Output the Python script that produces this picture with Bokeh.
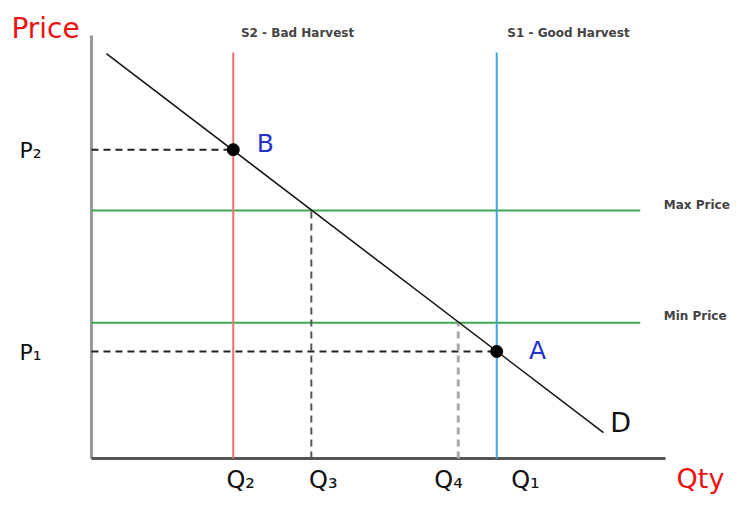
from bokeh.plotting import figure
from bokeh.models import Range1d
from bokeh.embed import file_html
from bokeh.resources import INLINE
from bokeh.core.properties import value

# ---- data ----
demand_q = [0.26, 8.92]
demand_p = [9.57, 0.61]
q_s2 = 2.47          # S2 - bad harvest
q_s1 = 7.06          # S1 - good harvest
q3 = 3.83
q4 = 6.39
p2 = 7.30
p1 = 2.53
max_price = 5.86
min_price = 3.21
axis_top = 10.0
axis_right = 10.0
supply_top = 9.6
green_end = 9.56

q_labels = ["Q₂", "Q₃", "Q₄", "Q₁"]
q_label_x = [2.6, 4.04, 6.22, 7.56]
p_labels = ["P₂", "P₁"]
p_label_y = [7.28, 2.5]

W, H = 733, 495
p = figure(width=W, height=H, output_backend="svg", toolbar_location=None,
           x_range=Range1d(-1.585, 11.185), y_range=Range1d(-0.875, 10.827),
           min_border=0, outline_line_color=None)
p.axis.visible = False
p.grid.visible = False

# axes
p.line([0, 0], [0, axis_top], line_color="#999999", line_width=3)
p.line([0, axis_right], [0, 0], line_color="#555555", line_width=3)

# price levels
p.line([0, green_end], [max_price, max_price], line_color="#3daa4f", line_width=2)
p.line([0, green_end], [min_price, min_price], line_color="#3daa4f", line_width=2)

# supply curves
p.line([q_s2, q_s2], [0, supply_top], line_color="#ef6f6f", line_width=2)
p.line([q_s1, q_s1], [0, supply_top], line_color="#3aa6e6", line_width=2)

# dashed guides
p.line([0, q_s2], [p2, p2], line_color="#222222", line_width=2, line_dash="7 5")
p.line([0, q_s1], [p1, p1], line_color="#222222", line_width=2, line_dash="7 5")
p.line([q3, q3], [0, max_price], line_color="#555555", line_width=2, line_dash="7 5")
p.line([q4, q4], [0, min_price], line_color="#aaaaaa", line_width=3, line_dash="7 5")

# demand
p.line(demand_q, demand_p, line_color="#111111", line_width=1.5)

# equilibrium points
p.scatter([q_s2, q_s1], [p2, p1], size=12, color="black")

hand = value("DejaVu Sans")
p.text([-0.8], [10.17], text=["Price"], text_color="#ee1111", text_font=hand,
       text_font_size="28px", text_align="center", text_baseline="middle")
p.text([10.61], [-0.47], text=["Qty"], text_color="#ee1111", text_font=hand,
       text_font_size="27px", text_align="center", text_baseline="middle")
p.text([3.59, 8.31], [10.05, 10.05], text=["S2 - Bad Harvest", "S1 - Good Harvest"],
       text_color="#444444", text_font=hand, text_font_size="12px", text_font_style="bold",
       text_align="center", text_baseline="middle")
p.text([9.97, 9.97], [6.0, 3.38], text=["Max Price", "Min Price"],
       text_color="#444444", text_font=hand, text_font_size="12px", text_font_style="bold",
       text_align="left", text_baseline="middle")
p.text([3.03, 7.77], [7.45, 2.55], text=["B", "A"], text_color="#2233cc",
       text_font=hand, text_font_size="25px", text_align="center", text_baseline="middle")
p.text([9.22], [0.85], text=["D"], text_color="#111111", text_font=hand,
       text_font_size="27px", text_align="center", text_baseline="middle")
p.text(q_label_x, [-0.52] * 4, text=q_labels, text_color="#111111", text_font=hand,
       text_font_size="24px", text_align="center", text_baseline="middle")
p.text([-1.06] * 2, p_label_y, text=p_labels, text_color="#111111", text_font=hand,
       text_font_size="22px", text_align="center", text_baseline="middle")

open("out.html", "w").write(file_html(p, INLINE))
